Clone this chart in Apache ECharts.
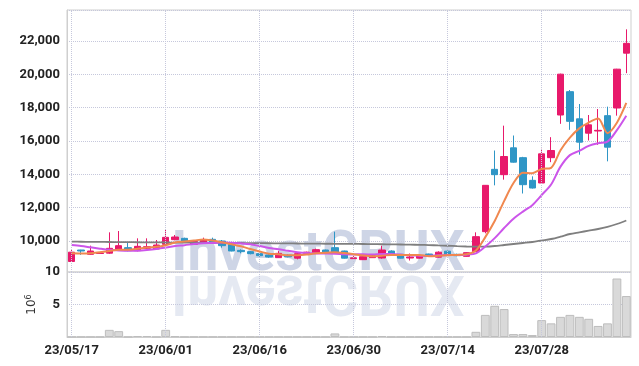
<!DOCTYPE html>
<html>
<head>
<meta charset="utf-8">
<script src="https://cdn.jsdelivr.net/npm/echarts@6/dist/echarts.min.js"></script>
<style>
  html, body { margin: 0; padding: 0; background: #fff; }
  #chart { width: 639px; height: 366px; }
</style>
</head>
<body>
<div id="chart"></div>
<script>
// trading days
const dates = [
  "23/05/17","23/05/18","23/05/19","23/05/22","23/05/23","23/05/24","23/05/25","23/05/26","23/05/30","23/05/31",
  "23/06/01","23/06/02","23/06/05","23/06/07","23/06/08","23/06/09","23/06/12","23/06/13","23/06/14","23/06/15",
  "23/06/16","23/06/19","23/06/20","23/06/21","23/06/22","23/06/23","23/06/26","23/06/27","23/06/28","23/06/29",
  "23/06/30","23/07/03","23/07/04","23/07/05","23/07/06","23/07/07","23/07/10","23/07/11","23/07/12","23/07/13",
  "23/07/14","23/07/17","23/07/18","23/07/19","23/07/20","23/07/21","23/07/24","23/07/25","23/07/26","23/07/27",
  "23/07/28","23/07/31","23/08/01","23/08/02","23/08/03","23/08/04","23/08/07","23/08/08","23/08/09","23/08/10"
];

const open = [8770,9460,9200,9250,9270,9460,9600,9420,9560,9520,
  9800,10080,10160,9800,9860,10100,10000,9800,9440,9360,
  9240,9160,9000,9150,8970,9260,9280,9460,9600,9400,
  8940,8880,9000,8980,9400,9200,8980,8970,9220,9030,
  9390,9200,9080,9360,10560,14300,13980,15590,15000,13640,
  13480,15000,17560,18960,17330,16470,16600,17520,17980,21270];
const close = [9330,9400,9400,9280,9560,9720,9420,9680,9660,9760,
  10220,10240,9960,9960,10080,9880,9720,9400,9360,9240,
  9120,9040,9260,9050,9240,9330,9480,9340,9270,8970,
  8990,9060,9110,9460,9210,8970,9040,9120,9100,9330,
  9150,9120,9300,10260,13340,13980,15070,14730,13380,13180,
  15230,15430,20010,17180,15930,16970,16640,15630,20310,21860];
const low = [8750,9170,9160,9230,9230,9400,9380,9380,9520,9480,
  9760,10040,9940,9780,9840,9840,9600,9380,9260,9200,
  9060,9000,8980,9020,8900,9240,9240,9300,9240,8950,
  8860,8860,8980,8940,9180,8950,8830,8950,9080,9010,
  9100,9080,9060,9340,10460,13340,13680,14700,12850,13150,
  13440,14730,17030,16670,15180,16030,15770,14780,17520,20070];
const high = [9520,9470,9720,9300,10520,10600,9880,10160,10160,10060,
  10660,10360,10200,10000,10200,10200,10060,9840,9500,9400,
  9300,9200,9400,9200,9300,9360,9540,9480,10560,9420,
  9100,9120,9160,9720,9440,9220,9250,9160,9240,9380,
  9420,9240,9320,10520,13360,15430,16920,16330,15050,13880,
  15530,16230,20040,19060,18220,17560,17920,18060,20330,22700];

const ma5 = [9265,9255,9270,9330,9394,9472,9476,9532,9608,9648,
  9748,9912,9968,10028,10092,10024,9920,9808,9688,9520,
  9368,9232,9204,9142,9142,9184,9272,9288,9332,9278,
  9210,9126,9080,9118,9166,9162,9158,9160,9088,9112,
  9148,9164,9200,9432,10234,11200,12390,13476,14100,14068,
  14318,14390,15446,16206,16756,17104,17346,16470,17096,18282];
const ma10 = [9760,9700,9620,9540,9470,9430,9410,9420,9460,9521,
  9610,9694,9750,9818,9870,9886,9916,9888,9858,9806,
  9696,9576,9506,9415,9331,9276,9252,9246,9237,9210,
  9197,9199,9184,9225,9222,9186,9142,9120,9103,9139,
  9155,9161,9180,9260,9673,10174,10777,11338,11766,12151,
  12759,13390,14461,15153,15412,15711,15868,15958,16651,17519];
const ma60 = [9960,9955,9950,9945,9940,9935,9930,9925,9920,9915,
  9910,9905,9900,9898,9895,9890,9888,9885,9880,9875,
  9870,9865,9860,9855,9850,9845,9840,9836,9832,9830,
  9825,9820,9812,9805,9798,9790,9780,9770,9755,9735,
  9715,9690,9670,9660,9665,9700,9760,9820,9880,9940,
  10030,10120,10260,10420,10520,10620,10720,10850,11020,11230];

// volume, millions of shares
const volume = [0.02,0.02,0.02,0.02,1.1,0.9,0.02,0.15,0.15,0.02,
  1.1,0.1,0.02,0.02,0.02,0.02,0.02,0.02,0.02,0.02,
  0.02,0.02,0.02,0.02,0.02,0.02,0.02,0.02,0.55,0.02,
  0.02,0.02,0.02,0.15,0.02,0.02,0.02,0.02,0.02,0.02,
  0.02,0.02,0.02,0.8,3.4,4.8,4.3,0.45,0.45,0.3,
  2.6,2.1,3.1,3.4,3.1,2.8,1.7,2.1,9.0,6.3];

const labelDates = ["23/05/17","23/06/01","23/06/16","23/06/30","23/07/14","23/07/28"];

const UP = "#e8196b";
const DOWN = "#2f96c6";
const GRID_LINE = "#c6c8dc";
const LABEL_FONT = "Roboto";

const candles = dates.map((_, i) => [open[i], close[i], low[i], high[i]]);

const vLines = {
  silent: true,
  symbol: ["none", "none"],
  label: { show: false },
  animation: false,
  lineStyle: { color: GRID_LINE, type: "dotted", width: 1 },
  data: labelDates.map(d => ({ xAxis: d }))
};

const chart = echarts.init(document.getElementById("chart"));

chart.setOption({
  animation: false,
  grid: [
    { left: 67, right: 8, top: 10, height: 262, show: true, borderColor: "#cfcfcf", borderWidth: 1 },
    { left: 67, right: 8, top: 272, height: 65, show: true, borderColor: "#cfcfcf", borderWidth: 1 }
  ],
  graphic: [
    {
      type: "text", x: 318, y: 284, z: -10, silent: true,
      style: {
        text: "InvestCRUX", font: "bold 55px Roboto",
        fill: "rgba(190,199,222,0.75)", align: "center", verticalAlign: "bottom"
      }
    },
    {
      type: "text", x: 318, y: 262, scaleY: -1, z: -10, silent: true,
      style: {
        text: "InvestCRUX", font: "bold 55px Roboto",
        fill: "rgba(212,218,234,0.6)", align: "center", verticalAlign: "bottom"
      }
    }
  ],
  xAxis: [
    {
      type: "category", gridIndex: 0, data: dates, boundaryGap: true,
      axisLine: { show: false }, axisTick: { show: false }, axisLabel: { show: false },
      splitLine: { show: false }
    },
    {
      type: "category", gridIndex: 1, data: dates, boundaryGap: true,
      axisLine: { show: true, lineStyle: { color: "#cfcfcf" } },
      axisTick: { show: false },
      axisLabel: {
        interval: 9, margin: 7, color: "#222",
        fontFamily: LABEL_FONT, fontSize: 13, fontWeight: "bold"
      },
      splitLine: { show: false }
    }
  ],
  yAxis: [
    {
      type: "value", gridIndex: 0, min: 8140, max: 23860, splitNumber: 7,
      axisLine: { show: true, lineStyle: { color: "#cfcfcf" } },
      axisTick: { show: false },
      axisLabel: {
        showMinLabel: false, showMaxLabel: false, margin: 7, color: "#222",
        fontFamily: LABEL_FONT, fontSize: 13, fontWeight: "bold",
        formatter: v => v.toLocaleString("en-US")
      },
      splitLine: { lineStyle: { color: GRID_LINE, type: "dotted" } }
    },
    {
      type: "value", gridIndex: 1, min: 0, max: 10, interval: 5,
      name: "{a|10}{b|6}", nameLocation: "middle", nameRotate: 90, nameGap: 28,
      nameMoveOverlap: false,
      nameTextStyle: {
        rich: {
          a: { fontFamily: "DejaVu Sans", fontSize: 12, color: "#333" },
          b: { fontFamily: "DejaVu Sans", fontSize: 8, color: "#333", verticalAlign: "top", padding: [0, 0, 6, 0] }
        }
      },
      axisLine: { show: true, lineStyle: { color: "#cfcfcf" } },
      axisTick: { show: false },
      axisLabel: {
        showMinLabel: false, margin: 7, color: "#222",
        fontFamily: LABEL_FONT, fontSize: 13, fontWeight: "bold"
      },
      splitLine: { lineStyle: { color: GRID_LINE, type: "dotted" } }
    }
  ],
  series: [
    {
      name: "price", type: "candlestick", xAxisIndex: 0, yAxisIndex: 0,
      data: candles, barWidth: 7,
      itemStyle: { color: UP, color0: DOWN, borderColor: UP, borderColor0: DOWN, borderWidth: 1 },
      markLine: vLines
    },
    {
      name: "MA60", type: "line", xAxisIndex: 0, yAxisIndex: 0, data: ma60,
      showSymbol: false, smooth: 0.3, z: 3,
      lineStyle: { color: "#7f7f7f", width: 1.8 }
    },
    {
      name: "MA10", type: "line", xAxisIndex: 0, yAxisIndex: 0, data: ma10,
      showSymbol: false, smooth: 0.3, z: 4,
      lineStyle: { color: "#cc55ea", width: 2 }
    },
    {
      name: "MA5", type: "line", xAxisIndex: 0, yAxisIndex: 0, data: ma5,
      showSymbol: false, smooth: 0.3, z: 5,
      lineStyle: { color: "#f0884f", width: 2 }
    },
    {
      name: "volume", type: "bar", xAxisIndex: 1, yAxisIndex: 1, data: volume,
      barCategoryGap: "6%",
      itemStyle: { color: "#d9d9d9", borderColor: "#bdbdbd", borderWidth: 1 },
      markLine: vLines
    }
  ]
});
</script>
</body>
</html>
